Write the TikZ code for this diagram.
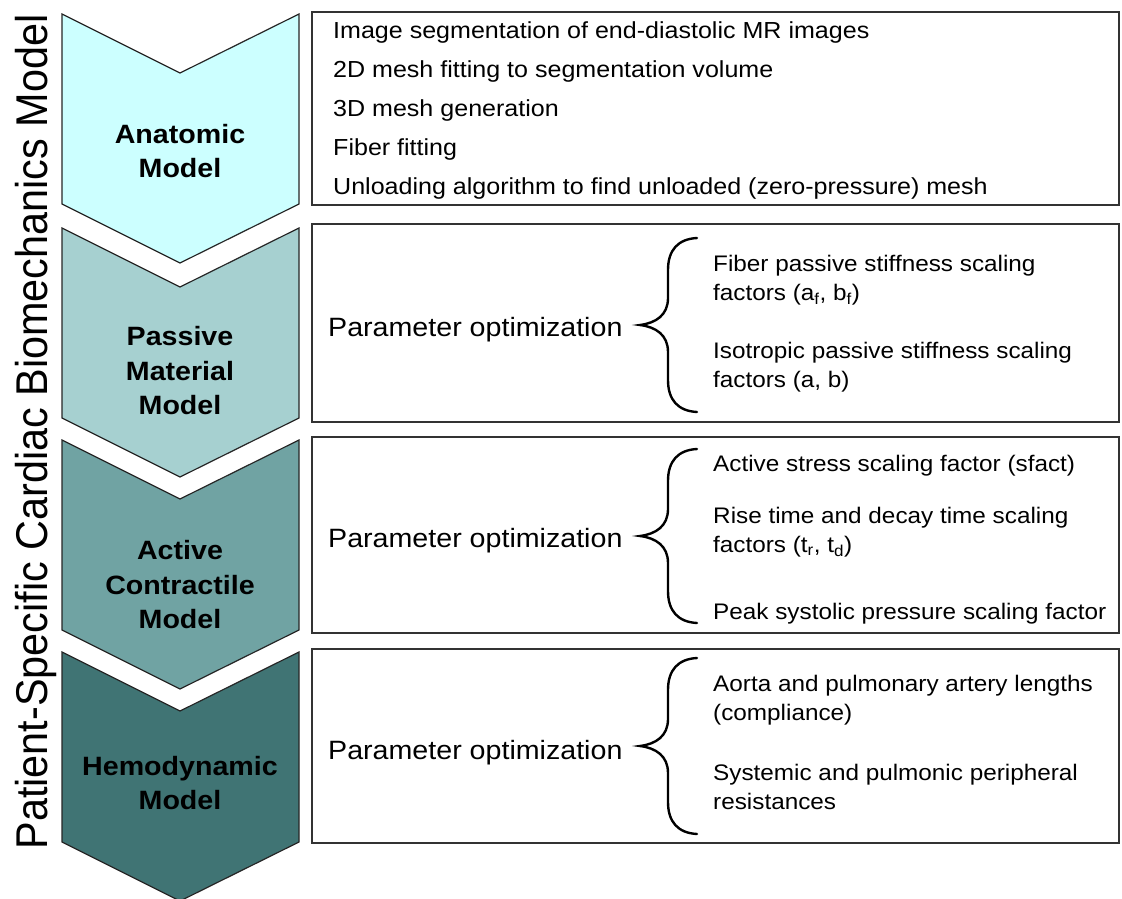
\documentclass[tikz,border=0pt]{standalone}
\usepackage{fontspec}
\setmainfont{Liberation Sans}[FakeStretch=1.08]
\newfontfamily\titlefont{Liberation Sans}[FakeStretch=0.93]
\usetikzlibrary{positioning}

\definecolor{anatfill}{RGB}{204,255,255}
\definecolor{passfill}{RGB}{166,208,208}
\definecolor{actfill}{RGB}{112,163,163}
\definecolor{hemofill}{RGB}{64,116,116}

\begin{document}
\begin{tikzpicture}[
  x=1pt,
  y=-1pt,
  chevron/.style={draw=black!85, line width=1.2pt, line join=miter},
  stage/.style={font=\fontsize{26.5}{34.5}\selectfont\bfseries, align=center, inner sep=0pt},
  panel/.style={draw=black!80, line width=1.6pt},
  task/.style={font=\fontsize{23.2}{38.8}\selectfont, anchor=base west, align=left, inner sep=0pt},
  optim/.style={font=\fontsize{26.5}{32}\selectfont, anchor=base west, inner sep=0pt},
  item/.style={font=\fontsize{22.5}{29}\selectfont, anchor=base west, align=left, inner sep=0pt},
  curly/.style={line width=2.4pt, line cap=round}
]
\useasboundingbox (0,0) rectangle (1122,899);

\foreach \top/\col in {14/anatfill, 228/passfill, 440/actfill, 652/hemofill}
  \draw[chevron, fill=\col] (62,\top) -- (180,\top+59) -- (299,\top) -- (299,\top+190)
    -- (180,\top+249) -- (62,\top+190) -- cycle;

\node[stage] (anatomic) at (180,151) {Anatomic\\Model};
\node[stage] (passive) at (180,371) {Passive\\Material\\Model};
\node[stage] (active) at (180,585) {Active\\Contractile\\Model};
\node[stage] (hemo) at (180,783) {Hemodynamic\\Model};

\node[rotate=90, anchor=base, inner sep=0pt, font=\titlefont\fontsize{44.5}{50}\selectfont]
  (title) at (47,432) {Patient-Specific Cardiac Biomechanics Model};

\draw[panel] (312,12) rectangle (1119,205);
\draw[panel] (312,224) rectangle (1119,422);
\draw[panel] (312,437) rectangle (1119,633);
\draw[panel] (312,649) rectangle (1119,843);

% base anchor of a multi-line node sits on its last line
\node[task] (anatsteps) at (333,194) {Image segmentation of end-diastolic MR images\\
  2D mesh fitting to segmentation volume\\
  3D mesh generation\\
  Fiber fitting\\
  Unloading algorithm to find unloaded (zero-pressure) mesh};

\node[optim] (passopt) at (328,336) {Parameter optimization};
\node[optim] (actopt) at (328,547) {Parameter optimization};
\node[optim] (hemoopt) at (328,759) {Parameter optimization};

\foreach \yc/\h in {325/87, 536/87, 746/88}
  \draw[curly] (697,\yc-\h) .. controls (678,\yc-\h+1) and (668,\yc-\h+12) .. (668,\yc-\h+32)
    -- (668,\yc-27) .. controls (668,\yc-10) and (656,\yc-2) .. (640,\yc)
    .. controls (656,\yc+2) and (668,\yc+10) .. (668,\yc+27)
    -- (668,\yc+\h-32) .. controls (668,\yc+\h-12) and (678,\yc+\h-1) .. (697,\yc+\h);

\node[item] (fiberk) at (713,300) {Fiber passive stiffness scaling\\factors (a\textsubscript{f}, b\textsubscript{f})};
\node[item] (isok) at (713,387) {Isotropic passive stiffness scaling\\factors (a, b)};

\node[item] (sfact) at (713,471) {Active stress scaling factor (sfact)};
\node[item] (risedecay) at (713,552) {Rise time and decay time scaling\\factors (t\textsubscript{r}, t\textsubscript{d})};
\node[item] (peakp) at (713,619) {Peak systolic pressure scaling factor};

\node[item] (arterylen) at (713,720) {Aorta and pulmonary artery lengths\\(compliance)};
\node[item] (resist) at (713,809) {Systemic and pulmonic peripheral\\resistances};
\end{tikzpicture}
\end{document}
